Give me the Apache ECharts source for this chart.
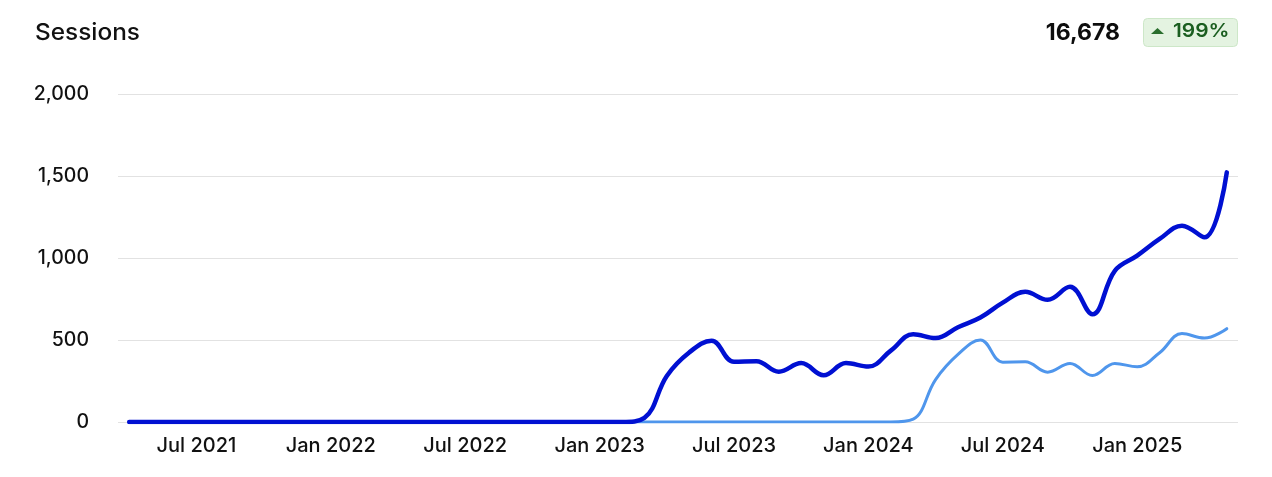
<!DOCTYPE html>
<html>
<head>
<meta charset="utf-8">
<script src="https://cdn.jsdelivr.net/npm/echarts@6/dist/echarts.min.js"></script>
<style>
html,body{margin:0;padding:0;background:#fff;}
#chart{width:1272px;height:477px;}
</style>
</head>
<body>
<div id="chart"></div>
<script>
const months = [
  'Apr 2021','May 2021','Jun 2021','Jul 2021','Aug 2021','Sep 2021','Oct 2021','Nov 2021','Dec 2021',
  'Jan 2022','Feb 2022','Mar 2022','Apr 2022','May 2022','Jun 2022','Jul 2022','Aug 2022','Sep 2022','Oct 2022','Nov 2022','Dec 2022',
  'Jan 2023','Feb 2023','Mar 2023','Apr 2023','May 2023','Jun 2023','Jul 2023','Aug 2023','Sep 2023','Oct 2023','Nov 2023','Dec 2023',
  'Jan 2024','Feb 2024','Mar 2024','Apr 2024','May 2024','Jun 2024','Jul 2024','Aug 2024','Sep 2024','Oct 2024','Nov 2024','Dec 2024',
  'Jan 2025','Feb 2025','Mar 2025','Apr 2025','May 2025'
];
const currentSessions = [
  0,0,0,0,0,0,0,0,0,
  0,0,0,0,0,0,0,0,0,0,0,0,
  0,0,25,281,424,496,367,371,307,359,285,359,
  338,435,535,512,578,637,728,794,745,824,657,922,
  1014,1116,1197,1126,1522
];
const previousSessions = [
  0,0,0,0,0,0,0,0,0,
  0,0,0,0,0,0,0,0,0,0,0,0,
  0,0,0,0,0,0,0,0,0,0,0,0,
  0,0,18,259,412,500,365,367,304,357,284,357,
  337,422,539,512,569
];
const yTicks = [0, 500, 1000, 1500, 2000];
const totalLabel = '16,678';
const changeLabel = '199%';
const titleText = 'Sessions';

const FONT = 'Inter, "Liberation Sans", Arial, sans-serif';
const chart = echarts.init(document.getElementById('chart'), null, {renderer: 'canvas'});
chart.setOption({
  animation: false,
  backgroundColor: '#ffffff',
  graphic: [
    {type: 'text', left: 35, top: 22, scaleX: 1.06,
     style: {text: titleText, fontFamily: FONT, fontSize: 23, fontWeight: 500, fill: '#111'}},
    {type: 'text', right: 152, top: 22,
     style: {text: totalLabel, fontFamily: FONT, fontSize: 23, fontWeight: 'bold', fill: '#0d0d0d'}},
    {type: 'rect', left: 1143, top: 18, shape: {width: 94, height: 28, r: 4},
     style: {fill: '#e4f3e1', stroke: '#cde7c8', lineWidth: 1}},
    {type: 'polygon', shape: {points: [[1151, 34], [1164, 34], [1157.5, 28]]},
     style: {fill: '#2a6e2d'}},
    {type: 'text', left: 1173, top: 22, scaleX: 1.1,
     style: {text: changeLabel, fontFamily: FONT, fontSize: 19, fontWeight: 600, fill: '#1b5e20'}}
  ],
  grid: {left: 118, right: 34, top: 94, bottom: 55, containLabel: false},
  xAxis: {
    type: 'category',
    data: months,
    boundaryGap: true,
    axisLine: {show: false},
    axisTick: {show: false},
    axisLabel: {
      interval: function (i, v) { return v.indexOf('Jan') === 0 || v.indexOf('Jul') === 0; },
      fontFamily: FONT, fontSize: 20, fontWeight: 500, color: '#111', margin: 14
    },
    splitLine: {show: false}
  },
  yAxis: {
    type: 'value',
    min: yTicks[0], max: yTicks[yTicks.length - 1], interval: 500,
    axisLine: {show: false},
    axisTick: {show: false},
    axisLabel: {
      fontFamily: FONT, fontSize: 19.5, fontWeight: 500, color: '#111', margin: 29,
      formatter: function (v) { return v.toLocaleString('en-US'); }
    },
    splitLine: {lineStyle: {color: '#e2e2e2', width: 1}}
  },
  series: [
    {
      name: 'Previous period', type: 'line', data: previousSessions,
      smooth: 0.4, showSymbol: false,
      lineStyle: {color: '#4f96ec', width: 3, cap: 'round'}
    },
    {
      name: 'Sessions', type: 'line', data: currentSessions,
      smooth: 0.4, showSymbol: false,
      lineStyle: {color: '#0010d2', width: 4.5, cap: 'round'}
    }
  ]
});
</script>
</body>
</html>
